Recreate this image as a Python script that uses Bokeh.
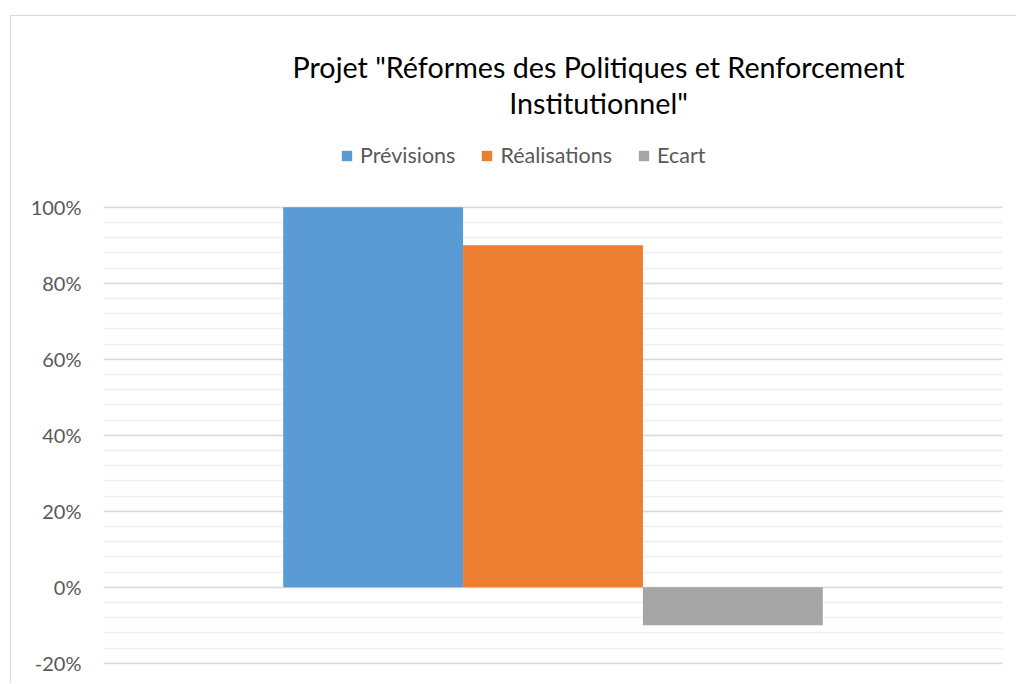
from bokeh.plotting import figure
from bokeh.models import (FactorRange, FixedTicker, NumeralTickFormatter,
                          Legend, LegendItem, Label, Range1d)
from bokeh.embed import file_html
from bokeh.resources import INLINE

# ---- data ----
series = ["Prévisions", "Réalisations", "Ecart"]
values = [1.00, 0.90, -0.10]
colors = ["#5B9BD5", "#ED7D31", "#A5A5A5"]
title_lines = ['Projet "Réformes des Politiques et Renforcement', 'Institutionnel"']
major_ticks = [-0.2, 0.0, 0.2, 0.4, 0.6, 0.8, 1.0]
minor_step = 0.04

FONT = "Lato"

minor_ticks = [round(-0.2 + minor_step * i, 4) for i in range(int(round(1.2 / minor_step)) + 1)]

p = figure(width=1006, height=668, output_backend="svg", toolbar_location=None,
           x_range=FactorRange(factors=series, range_padding=0.666, factor_padding=0),
           y_range=Range1d(-0.256, 1.502),
           min_border_left=92, min_border_right=15, min_border_top=0, min_border_bottom=0,
           margin=(15, 0, 0, 10),
           styles={"border-left": "1px solid #d9d9d9", "border-top": "1px solid #d9d9d9"})
p.outline_line_color = None
p.background_fill_color = "white"
p.border_fill_color = "white"

renderers = []
for s, v, c in zip(series, values, colors):
    r = p.vbar(x=[s], top=[v], bottom=0, width=1.0, fill_color=c, line_color=None)
    renderers.append(r)

p.xaxis.visible = False
p.xgrid.visible = False

p.yaxis.ticker = FixedTicker(ticks=major_ticks, minor_ticks=minor_ticks)
p.yaxis.formatter = NumeralTickFormatter(format="0%")
p.yaxis.axis_line_color = None
p.yaxis.major_tick_line_color = None
p.yaxis.minor_tick_line_color = None
p.yaxis.major_label_text_font = FONT
p.yaxis.major_label_text_font_size = "20px"
p.yaxis.major_label_text_color = "#595959"
p.yaxis.major_label_standoff = 16

p.ygrid.grid_line_color = "#d9d9d9"
p.ygrid.grid_line_width = 1.3
p.ygrid.minor_grid_line_color = "#efefef"
p.ygrid.minor_grid_line_width = 1.3

legend = Legend(items=[LegendItem(label=s, renderers=[r]) for s, r in zip(series, renderers)],
                orientation="horizontal", location=(237, 516),
                glyph_width=13, glyph_height=13, label_standoff=7, spacing=25,
                padding=0, margin=0, border_line_color=None, background_fill_alpha=0,
                label_text_font=FONT, label_text_font_size="21.5px", label_text_color="#595959",
                label_height=20)
p.add_layout(legend, "center")

for t, yy in zip(title_lines, [618, 582]):
    p.add_layout(Label(x=495, y=yy, x_units="screen", y_units="screen", text=t,
                       text_align="center", text_baseline="middle",
                       text_font=FONT, text_font_size="28.7px", text_color="#000000"))

open("out.html", "w").write(file_html(p, INLINE))
